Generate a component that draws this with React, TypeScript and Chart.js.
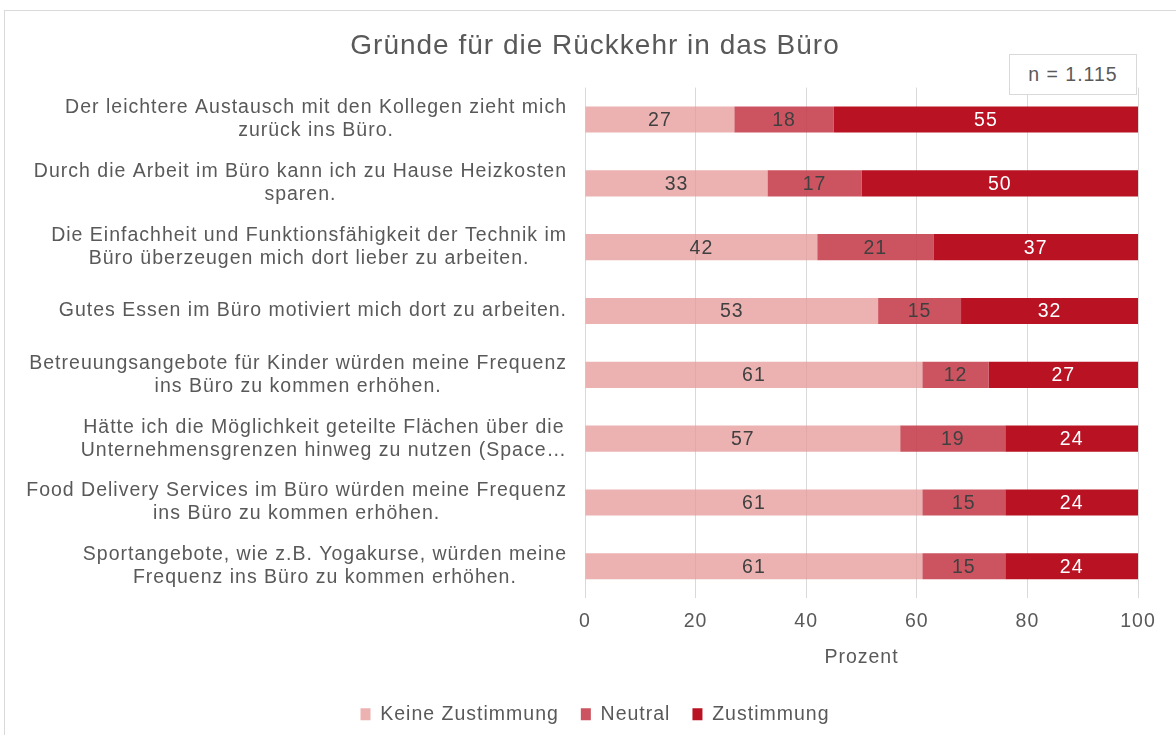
import React, { useEffect, useRef } from "react";
import { Chart, registerables } from "chart.js";

Chart.register(...registerables);

const categories: string[][] = [
  ["Der leichtere Austausch mit den Kollegen zieht mich", "zurück ins Büro."],
  ["Durch die Arbeit im Büro kann ich zu Hause Heizkosten", "sparen."],
  ["Die Einfachheit und Funktionsfähigkeit der Technik im", "Büro überzeugen mich dort lieber zu arbeiten."],
  ["Gutes Essen im Büro motiviert mich dort zu arbeiten."],
  ["Betreuungsangebote für Kinder würden meine Frequenz", "ins Büro zu kommen erhöhen."],
  ["Hätte ich die Möglichkeit geteilte Flächen über die", "Unternehmensgrenzen hinweg zu nutzen (Space…"],
  ["Food Delivery Services im Büro würden meine Frequenz", "ins Büro zu kommen erhöhen."],
  ["Sportangebote, wie z.B. Yogakurse, würden meine", "Frequenz ins Büro zu kommen erhöhen."],
];
const keineZustimmung = [27, 33, 42, 53, 61, 57, 61, 61];
const neutral = [18, 17, 21, 15, 12, 19, 15, 15];
const zustimmung = [55, 50, 37, 32, 27, 24, 24, 24];
const seriesNames = ["Keine Zustimmung", "Neutral", "Zustimmung"];
const titleText = "Gründe für die Rückkehr in das Büro";
const xTitle = "Prozent";
const nLabel = "n = 1.115";

const FONT = "'Liberation Sans', Arial, sans-serif";
const GRAY = "#595959";
const FS = 19.5;

const spacingPlugin = {
  id: "spacing",
  beforeLayout(chart: any) {
    (chart.ctx as any).letterSpacing = "1px";
  },
  beforeDraw(chart: any) {
    (chart.ctx as any).letterSpacing = "1px";
  },
};

const categoryLabelsPlugin = {
  id: "categoryLabels",
  afterDraw(chart: any) {
    const ctx = chart.ctx;
    const y = chart.scales.y;
    const area = chart.chartArea;
    ctx.save();
    (ctx as any).letterSpacing = "1px";
    ctx.font = `${FS}px ${FONT}`;
    ctx.fillStyle = GRAY;
    ctx.textAlign = "center";
    ctx.textBaseline = "middle";
    const lineH = 23;
    categories.forEach((lines, i) => {
      const cy = y.getPixelForValue(i);
      const w = Math.max(...lines.map((l) => ctx.measureText(l).width));
      const right = area.left - 18;
      const cx = right - w / 2;
      lines.forEach((l, j) => {
        ctx.fillText(l, cx, cy + (j - (lines.length - 1) / 2) * lineH);
      });
    });
    ctx.restore();
  },
};

const valueLabelsPlugin = {
  id: "valueLabels",
  afterDatasetsDraw(chart: any) {
    const ctx = chart.ctx;
    ctx.save();
    (ctx as any).letterSpacing = "1px";
    ctx.font = `${FS}px ${FONT}`;
    ctx.textAlign = "center";
    ctx.textBaseline = "middle";
    chart.data.datasets.forEach((ds: any, di: number) => {
      const meta = chart.getDatasetMeta(di);
      ctx.fillStyle = di === 2 ? "#FFFFFF" : "#404040";
      meta.data.forEach((bar: any, i: number) => {
        const cx = (bar.x + bar.base) / 2;
        ctx.fillText(String(ds.data[i]), cx, bar.y + 1);
      });
    });
    ctx.restore();
  },
};

export default function App() {
  const ref = useRef<HTMLCanvasElement | null>(null);
  useEffect(() => {
    if (!ref.current) return;
    const chart = new Chart(ref.current, {
      type: "bar",
      data: {
        labels: categories.map((c) => c.join(" ")),
        datasets: [
          { label: seriesNames[0], data: keineZustimmung, backgroundColor: "rgba(229,152,152,0.75)" },
          { label: seriesNames[1], data: neutral, backgroundColor: "rgba(196,60,74,0.88)" },
          { label: seriesNames[2], data: zustimmung, backgroundColor: "#B81223" },
        ],
      },
      options: {
        indexAxis: "y",
        animation: false,
        responsive: false,
        maintainAspectRatio: false,
        datasets: { bar: { categoryPercentage: 1, barPercentage: 0.41 } },
        layout: { padding: { left: 52, right: 38, top: 0, bottom: 1 } },
        scales: {
          x: {
            stacked: true,
            min: 0,
            max: 100,
            ticks: { stepSize: 20, color: GRAY, font: { family: FONT, size: FS }, padding: 12 },
            grid: { color: "#D9D9D9", lineWidth: 1, drawTicks: false },
            border: { display: false },
            title: {
              display: true,
              text: xTitle,
              color: GRAY,
              font: { family: FONT, size: FS },
              padding: { top: 0, bottom: 13.5 },
            },
          },
          y: {
            stacked: true,
            ticks: { display: false },
            grid: { display: false },
            border: { display: false },
            afterFit: (scale: any) => {
              scale.width = 533;
            },
          },
        },
        plugins: {
          title: {
            display: true,
            text: titleText,
            color: GRAY,
            font: { family: FONT, size: 28, weight: "normal" },
            padding: { top: 29, bottom: 25 },
          },
          legend: {
            position: "bottom",
            labels: {
              boxWidth: 10,
              boxHeight: 12,
              padding: 22,
              color: GRAY,
              font: { family: FONT, size: FS },
            },
          },
          tooltip: { enabled: false },
        },
      },
      plugins: [spacingPlugin, categoryLabelsPlugin, valueLabelsPlugin],
    });
    return () => chart.destroy();
  }, []);

  return (
    <div style={{ position: "fixed", left: 0, top: 0, width: 1176, height: 735, background: "#fff", overflow: "hidden" }}>
      <div
        style={{
          position: "absolute",
          left: 4,
          top: 10,
          width: 1200,
          height: 800,
          border: "1px solid #D9D9D9",
          boxSizing: "border-box",
        }}
      />
      <canvas ref={ref} width={1176} height={735} style={{ position: "absolute", left: 0, top: 0 }} />
      <div
        style={{
          position: "absolute",
          left: 1009,
          top: 54,
          width: 128,
          height: 41,
          border: "1px solid #D9D9D9",
          background: "#fff",
          boxSizing: "border-box",
          display: "flex",
          alignItems: "center",
          justifyContent: "center",
          fontFamily: FONT,
          fontSize: FS,
          letterSpacing: "1px",
          color: GRAY,
        }}
      >
        {nLabel}
      </div>
    </div>
  );
}
